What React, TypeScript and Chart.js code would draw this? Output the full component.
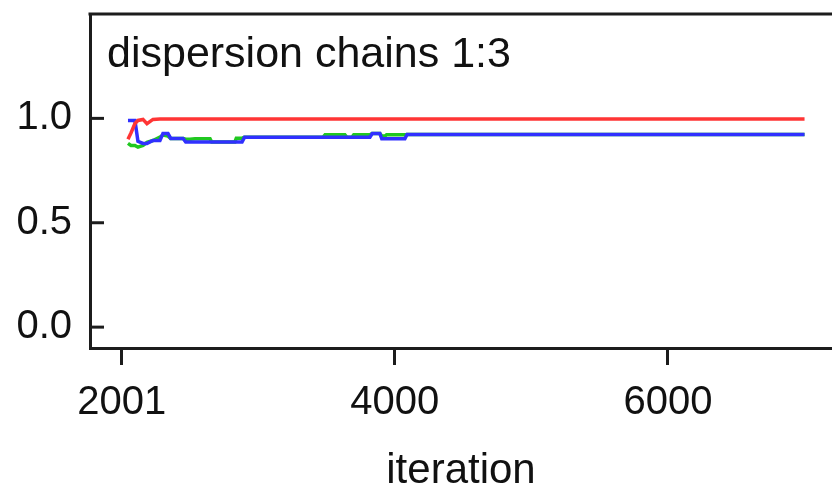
import { useEffect, useRef } from "react";
import { Chart, registerables } from "chart.js";

Chart.register(...registerables);

// Gelman-Rubin dispersion trace for chains 1:3
const iterations = [
  2047, 2069, 2098, 2120, 2157, 2186, 2230, 2281, 2303, 2340,
  2360, 2450, 2470, 2501, 2538, 2648, 2660, 2830, 2840, 2882,
  2900, 3474, 3490, 3635, 3650, 3686, 3700, 3818, 3835, 3891,
  3905, 3928, 3940, 4074, 4090, 7000,
];

// ratio (red)
const ratioValues = [
  0.9, 0.93, 0.975, 0.99, 0.995, 0.975, 0.995, 0.997, 0.997, 0.997,
  0.997, 0.997, 0.997, 0.997, 0.997, 0.997, 0.997, 0.997, 0.997, 0.997,
  0.997, 0.997, 0.997, 0.997, 0.997, 0.997, 0.997, 0.997, 0.997, 0.997,
  0.997, 0.997, 0.997, 0.997, 0.997, 0.997,
];

// average within-chain width (blue)
const withinValues = [
  0.99, 0.99, 0.99, 0.89, 0.88, 0.88, 0.894, 0.894, 0.927, 0.927,
  0.904, 0.904, 0.887, 0.887, 0.887, 0.887, 0.887, 0.887, 0.887, 0.887,
  0.909, 0.909, 0.909, 0.909, 0.909, 0.909, 0.909, 0.909, 0.927, 0.927,
  0.902, 0.902, 0.902, 0.902, 0.923, 0.923,
];

// pooled width (green)
const pooledValues = [
  0.88, 0.87, 0.87, 0.862, 0.87, 0.885, 0.894, 0.91, 0.92, 0.915,
  0.904, 0.904, 0.9, 0.9, 0.902, 0.902, 0.887, 0.887, 0.905, 0.905,
  0.909, 0.909, 0.921, 0.921, 0.909, 0.909, 0.921, 0.921, 0.927, 0.927,
  0.915, 0.915, 0.921, 0.921, 0.923, 0.923,
];

const xTickValues = [2001, 4000, 6000];
const yTickValues = [0, 0.5, 1.0];
const panelLabel = "dispersion chains 1:3";
const xAxisTitle = "iteration";

const FONT = '"Liberation Sans", Arial, sans-serif';
const FRAME = "#1c1c1c";
const TEXT = "#111111";

const framePlugin = {
  id: "bgrFrame",
  afterDraw(chart: any) {
    const { ctx, chartArea, scales } = chart;
    ctx.save();
    ctx.strokeStyle = FRAME;
    ctx.lineWidth = 3;
    // top edge of the plot box
    ctx.beginPath();
    ctx.moveTo(chartArea.left - 1.5, chartArea.top);
    ctx.lineTo(chartArea.right, chartArea.top);
    ctx.stroke();
    // short inward tick marks on the value axis
    const y = scales.y;
    y.ticks.forEach((t: any) => {
      const py = y.getPixelForValue(t.value);
      ctx.beginPath();
      ctx.moveTo(chartArea.left, py);
      ctx.lineTo(chartArea.left + 14, py);
      ctx.stroke();
    });
    // panel caption
    ctx.fillStyle = TEXT;
    ctx.font = `43px ${FONT}`;
    ctx.textAlign = "left";
    ctx.textBaseline = "alphabetic";
    ctx.fillText(panelLabel, chartArea.left + 17, chartArea.top + 53);
    ctx.restore();
  },
};

const toPoints = (values: number[]) =>
  iterations.map((x, i) => ({ x, y: values[i] }));

export default function App() {
  const ref = useRef<HTMLCanvasElement>(null);

  useEffect(() => {
    const canvas = ref.current;
    if (!canvas) return;
    const chart = new Chart(canvas, {
      type: "line",
      data: {
        datasets: [
          {
            label: "ratio",
            data: toPoints(ratioValues),
            borderColor: "#ff3535",
            borderWidth: 3.5,
            pointRadius: 0,
            tension: 0,
          },
          {
            label: "within",
            data: toPoints(withinValues),
            borderColor: "#3030ff",
            borderWidth: 3.5,
            pointRadius: 0,
            tension: 0,
          },
          {
            label: "pooled",
            data: toPoints(pooledValues),
            borderColor: "#20c820",
            borderWidth: 3.5,
            pointRadius: 0,
            tension: 0,
          },
        ],
      },
      options: {
        responsive: false,
        animation: false,
        devicePixelRatio: 1,
        layout: { padding: { top: 14, left: 0, right: 0, bottom: 0 } },
        plugins: {
          legend: { display: false },
          tooltip: { enabled: false },
        },
        scales: {
          x: {
            type: "linear",
            min: 1769,
            max: 7201,
            afterBuildTicks: (s: any) => {
              s.ticks = xTickValues.map((v) => ({ value: v }));
            },
            afterFit: (s: any) => {
              s.height = 146;
              s.paddingLeft = 0;
              s.paddingRight = 0;
            },
            ticks: {
              autoSkip: false,
              maxRotation: 0,
              padding: 18,
              color: TEXT,
              font: { family: FONT, size: 40, lineHeight: 1 },
              callback: (v: any) => String(v),
            },
            grid: {
              drawOnChartArea: false,
              drawTicks: true,
              tickLength: 17,
              lineWidth: 3,
              color: FRAME,
            },
            border: { display: true, color: FRAME, width: 3 },
            title: {
              display: true,
              text: xAxisTitle,
              color: TEXT,
              font: { family: FONT, size: 42, lineHeight: 1 },
              padding: { top: 0, bottom: 2 },
            },
          },
          y: {
            type: "linear",
            min: -0.1,
            max: 1.5,
            afterBuildTicks: (s: any) => {
              s.ticks = yTickValues.map((v) => ({ value: v }));
            },
            afterFit: (s: any) => {
              s.width = 90;
              s.paddingTop = 0;
              s.paddingBottom = 0;
            },
            ticks: {
              padding: 18,
              color: TEXT,
              font: { family: FONT, size: 40, lineHeight: 1 },
              callback: (v: any) => Number(v).toFixed(1),
            },
            grid: { display: false, drawTicks: false },
            border: { display: true, color: FRAME, width: 3 },
          },
        },
      },
      plugins: [framePlugin],
    } as any);
    return () => chart.destroy();
  }, []);

  return (
    <div
      style={{
        position: "fixed",
        left: 0,
        top: 0,
        width: 832,
        height: 494,
        background: "#ffffff",
      }}
    >
      <canvas ref={ref} width={832} height={494} style={{ display: "block" }} />
    </div>
  );
}
